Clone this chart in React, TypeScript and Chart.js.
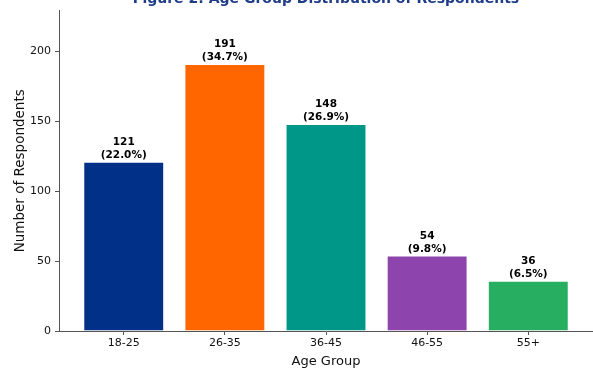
import React, { useEffect, useRef } from "react";
import { Chart, registerables } from "chart.js";

Chart.register(...registerables);

const categories = ["18-25", "26-35", "36-45", "46-55", "55+"];
const counts = [121, 191, 148, 54, 36];
const barColors = ["#003087", "#FF6600", "#009688", "#8E44AD", "#27AE60"];
const yTicks = [0, 50, 100, 150, 200];
const titleText = "Figure 2: Age Group Distribution of Respondents";

const FONT = "'DejaVu Sans', sans-serif";

export default function App() {
  const ref = useRef<HTMLCanvasElement | null>(null);

  useEffect(() => {
    const total = counts.reduce((a, b) => a + b, 0);
    const labelPlugin = {
      id: "barLabels",
      afterDatasetsDraw(chart: any) {
        const ctx = chart.ctx;
        const meta = chart.getDatasetMeta(0);
        ctx.save();
        ctx.fillStyle = "#000";
        ctx.font = `bold 10.5px ${FONT}`;
        ctx.textAlign = "center";
        ctx.textBaseline = "alphabetic";
        meta.data.forEach((bar: any, i: number) => {
          const pct = ((counts[i] / total) * 100).toFixed(1);
          ctx.fillText(`(${pct}%)`, bar.x, bar.y - 4);
          ctx.fillText(String(counts[i]), bar.x, bar.y - 17);
        });
        ctx.restore();
      },
    };
    const titlePlugin = {
      id: "cutTitle",
      afterDraw(chart: any) {
        const ctx = chart.ctx;
        const a = chart.chartArea;
        ctx.save();
        ctx.fillStyle = "#1F3C88";
        ctx.font = `bold 14px ${FONT}`;
        ctx.textAlign = "center";
        ctx.textBaseline = "alphabetic";
        ctx.fillText(titleText, (a.left + a.right) / 2, 3);
        ctx.restore();
      },
    };

    const chart = new Chart(ref.current!, {
      type: "bar",
      data: {
        datasets: [
          {
            data: counts.map((v, i) => ({ x: i, y: v })),
            backgroundColor: barColors,
            borderColor: "#ffffff",
            borderWidth: 1,
            barPercentage: 0.8,
            categoryPercentage: 1,
          },
        ],
      },
      options: {
        animation: false,
        responsive: false,
        maintainAspectRatio: false,
        layout: { padding: { top: 8, right: 0, left: 0, bottom: 0 } },
        plugins: {
          legend: { display: false },
          tooltip: { enabled: false },
          title: { display: false },
        },
        scales: {
          x: {
            type: "linear",
            min: -0.64,
            max: 4.64,
            offset: false,
            afterBuildTicks(scale: any) {
              scale.ticks = categories.map((_, i) => ({ value: i }));
            },
            afterFit(scale: any) {
              scale.height = 38;
            },
            ticks: {
              callback: (v: any) => categories[v] ?? "",
              color: "#111",
              font: { family: FONT, size: 11 },
              padding: 2,
              maxRotation: 0,
            },
            grid: {
              display: true,
              offset: false,
              drawOnChartArea: false,
              drawTicks: true,
              tickLength: 4,
              color: "#555",
            },
            border: { display: true, color: "#555", width: 1 },
            title: {
              display: true,
              text: "Age Group",
              color: "#111",
              font: { family: FONT, size: 13 },
              padding: { top: 0, bottom: 0 },
            },
          },
          y: {
            min: 0,
            max: 229.2,
            afterBuildTicks(scale: any) {
              scale.ticks = yTicks.map((v) => ({ value: v }));
            },
            afterFit(scale: any) {
              scale.width = 59;
            },
            ticks: {
              color: "#111",
              font: { family: FONT, size: 11 },
              padding: 4,
            },
            grid: {
              display: true,
              offset: false,
              drawOnChartArea: false,
              drawTicks: true,
              tickLength: 4,
              color: "#555",
            },
            border: { display: true, color: "#555", width: 1 },
            title: {
              display: true,
              text: "Number of Respondents",
              color: "#111",
              font: { family: FONT, size: 13.5 },
              padding: { top: 12, bottom: 0 },
            },
          },
        },
      },
      plugins: [labelPlugin, titlePlugin],
    });
    return () => chart.destroy();
  }, []);

  return (
    <div style={{ position: "absolute", left: 0, top: 0, width: 593, height: 369, background: "#fff" }}>
      <canvas ref={ref} width={593} height={369} style={{ display: "block" }} />
    </div>
  );
}
